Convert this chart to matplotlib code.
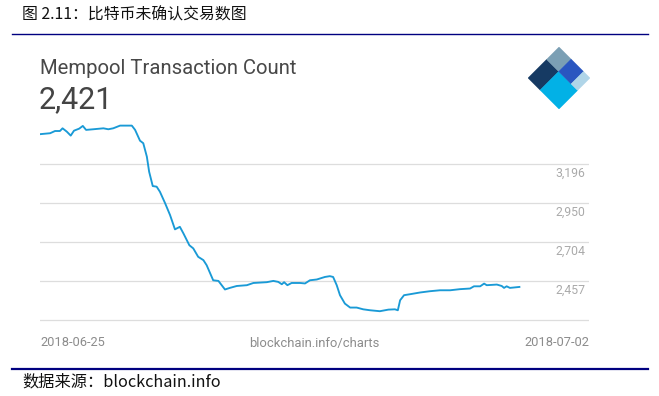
import numpy as np
import matplotlib
matplotlib.use("Agg")
import matplotlib.pyplot as plt
from matplotlib.patches import Rectangle
from matplotlib.transforms import Affine2D

# hours since 2018-06-25 00:00
hours = [0, 3.1, 4.6, 6.1, 6.9, 8.2, 9.4, 10.4, 12.0, 13.1, 14.1, 16.3, 19.4, 20.9,
         22.4, 24.5, 28.1, 29.1, 30.6, 31.6, 32.7, 33.4, 34.5, 35.7, 36.7, 38.3,
         39.8, 41.3, 42.8, 43.9, 45.7, 46.9, 48.4, 50.0, 51.0, 53.0, 54.6, 56.6,
         58.1, 60.2, 63.3, 65.3, 69.4, 71.4, 72.9, 74.0, 74.7, 75.7, 77.0, 79.6,
         81.1, 82.6, 84.7, 87.2, 88.7, 89.7, 90.8, 91.8, 93.3, 94.9, 96.9, 98.9,
         101.0, 104.0, 106.6, 108.6, 109.5, 110.2, 111.4, 113.2, 116.3, 119.3,
         122.4, 125.5, 128.5, 131.6, 132.8, 134.7, 135.9, 136.7, 139.8, 141.3,
         142.0, 142.8, 143.8, 146.7]
counts = [3384, 3390, 3404, 3404, 3421, 3400, 3375, 3406, 3419, 3436, 3411, 3415,
          3421, 3415, 3421, 3438, 3438, 3411, 3343, 3327, 3242, 3147, 3057, 3053,
          3021, 2948, 2874, 2784, 2800, 2758, 2684, 2664, 2611, 2590, 2558, 2463,
          2459, 2405, 2415, 2427, 2432, 2446, 2451, 2459, 2453, 2438, 2451, 2432,
          2446, 2446, 2443, 2463, 2468, 2484, 2489, 2484, 2432, 2369, 2316, 2291,
          2291, 2280, 2274, 2268, 2278, 2280, 2274, 2337, 2369, 2375, 2386, 2394,
          2400, 2400, 2407, 2411, 2425, 2425, 2442, 2432, 2436, 2427, 2415, 2425,
          2415, 2421]

grid_vals = [2211, 2457, 2704, 2950, 3196]
grid_labels = ["", "2,457", "2,704", "2,950", "3,196"]
date_labels = ["2018-06-25", "2018-07-02"]

W, H = 659, 396
fig = plt.figure(figsize=(W / 100, H / 100), dpi=100)

def px(x0, y0, x1, y1):
    # pixel box (top-left origin) -> figure fraction rect
    return [x0 / W, 1 - y1 / H, (x1 - x0) / W, (y1 - y0) / H]

ax = fig.add_axes(px(40, 118, 589, 322))
ax.set_xlim(0, 168)
ax.set_ylim(2200, 3486)
ax.axis("off")

for v, lab in zip(grid_vals, grid_labels):
    ax.axhline(v, color="#dddddd", lw=0.9, zorder=1)
    if lab:
        ax.annotate(lab, xy=(0.993, v), xycoords=("axes fraction", "data"),
                    xytext=(0, -6.8), textcoords="offset points",
                    ha="right", va="center", fontsize=8.8, color="#aaaaaa",
                    family="Roboto")

ax.plot(hours, counts, color="#1a9ad6", lw=1.35, zorder=3)

# titles
fig.text(40 / W, 1 - 68 / H, "Mempool Transaction Count", fontsize=14.6,
         color="#484848", family="Roboto", va="center", ha="left")
fig.text(39 / W, 1 - 100 / H, "2,421", fontsize=22, color="#444444",
         family="Roboto", va="center", ha="left")

# bottom labels of the chart
fig.text(40 / W, 1 - 343 / H, date_labels[0], fontsize=9.3, color="#8c8c8c",
         family="Roboto", va="center", ha="left")
fig.text(314 / W, 1 - 343 / H, "blockchain.info/charts", fontsize=9.4,
         color="#8c8c8c", family="Roboto", va="center", ha="center")
fig.text(589 / W, 1 - 343 / H, date_labels[1], fontsize=9.3, color="#8c8c8c",
         family="Roboto", va="center", ha="right")

# logo
lax = fig.add_axes(px(527, 47, 591, 109))
lax.set_xlim(0, np.sqrt(2))
lax.set_ylim(-np.sqrt(2) / 2, np.sqrt(2) / 2)
lax.set_aspect("equal")
lax.axis("off")
r = 1 / np.sqrt(2)
rot = Affine2D(np.array([[r, r, 0], [r, -r, 0], [0, 0, 1]])) + lax.transData
pieces = [((0, 0), 0.6, 0.39, "#163a63"),
          ((0.6, 0), 0.4, 0.39, "#7b9fb4"),
          ((0, 0.39), 0.6, 0.61, "#02b1e6"),
          ((0.6, 0.39), 0.4, 0.40, "#2a56c0"),
          ((0.6, 0.79), 0.4, 0.21, "#b0d5e8")]
for xy, w, h, c in pieces:
    lax.add_patch(Rectangle(xy, w, h, facecolor=c, edgecolor=c, lw=0.3,
                            transform=rot))

# page furniture
cjk = ["Noto Sans CJK SC", "DejaVu Sans"]
fig.text(22 / W, 1 - 15 / H, "图 2.11：比特币未确认交易数图", fontsize=11.4,
         family=cjk, va="center", ha="left", color="#111111")
fig.text(22 / W, 1 - 382 / H, "数据来源：blockchain.info", fontsize=11.7,
         family=cjk, va="center", ha="left", color="#111111")
fig.add_artist(plt.Line2D([12 / W, 648 / W], [1 - 34 / H, 1 - 34 / H],
                          color="#000080", lw=1.0))
fig.add_artist(plt.Line2D([12 / W, 648 / W], [1 - 369 / H, 1 - 369 / H],
                          color="#000080", lw=1.6))

fig.savefig("out.png", dpi=100)
